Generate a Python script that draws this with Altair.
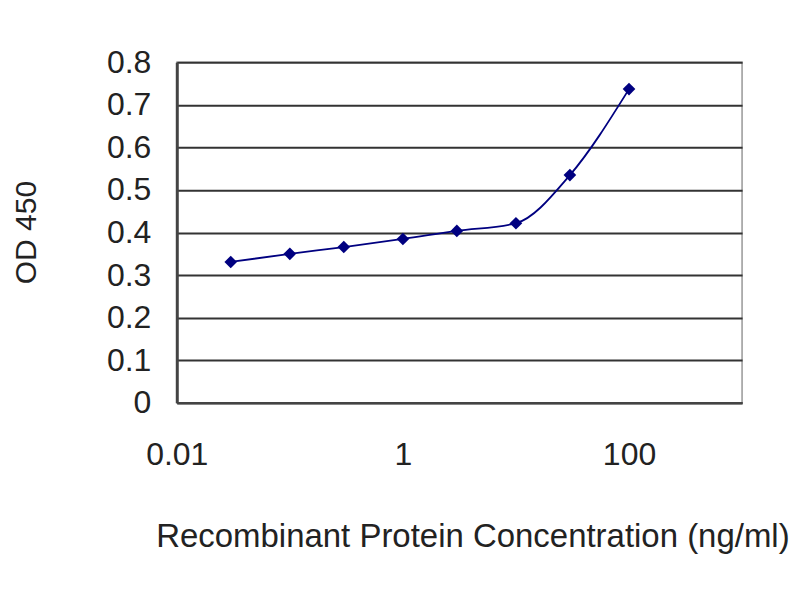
import altair as alt
import pandas as pd

# ELISA standard curve: concentration (ng/ml) vs OD 450
concentration = [0.03, 0.1, 0.3, 1, 3, 10, 30, 100]
od450 = [0.331, 0.350, 0.366, 0.385, 0.404, 0.422, 0.535, 0.737]

x_ticks = [0.01, 1, 100]
y_ticks = [0, 0.1, 0.2, 0.3, 0.4, 0.5, 0.6, 0.7, 0.8]

df = pd.DataFrame({"conc": concentration, "od": od450})

FONT = "Liberation Sans"
NAVY = "#000080"

x_enc = alt.X(
    "conc:Q",
    title="Recombinant Protein Concentration (ng/ml)",
    scale=alt.Scale(type="log", domain=[0.01, 1000], nice=False),
    axis=alt.Axis(
        values=x_ticks,
        format="~g",
        grid=False,
        ticks=False,
        labelFlush=False,
        labelPadding=37,
        labelFontSize=32,
        labelColor="#222222",
        labelFont=FONT,
        titleFont=FONT,
        titleFontSize=33,
        titleFontWeight="normal",
        titleColor="#222222",
        titleX=296,
        titleY=134,
        titleBaseline="middle",
        domainColor="#444444",
        domainWidth=2.5,
    ),
)

y_enc = alt.Y(
    "od:Q",
    title="OD 450",
    scale=alt.Scale(domain=[0, 0.8], nice=False),
    axis=alt.Axis(
        values=y_ticks,
        format="~g",
        grid=True,
        gridColor="#333333",
        gridWidth=2,
        ticks=False,
        labelPadding=26,
        labelFontSize=32,
        labelColor="#222222",
        labelFont=FONT,
        labelBaseline="middle",
        titleFont=FONT,
        titleFontSize=30,
        titleFontWeight="normal",
        titleColor="#222222",
        titleX=-150,
        titleY=170,
        titleAlign="center",
        titleBaseline="middle",
        domainColor="#444444",
        domainWidth=3,
    ),
)

base = alt.Chart(df).encode(x=x_enc, y=y_enc)

line = base.mark_line(color=NAVY, strokeWidth=1.8, interpolate="monotone")
points = base.mark_point(shape="diamond", filled=True, color=NAVY, size=160, opacity=1)

chart = (
    alt.layer(line, points)
    .properties(
        width=566,
        height=341,
        autosize=alt.AutoSizeParams(type="none"),
        padding={"left": 169, "top": 54, "right": 50, "bottom": 180},
        background="white",
    )
    .configure_view(stroke="#999999", strokeWidth=1.5)
)

chart.save("out.html", embed_options={"renderer": "svg", "actions": False})
